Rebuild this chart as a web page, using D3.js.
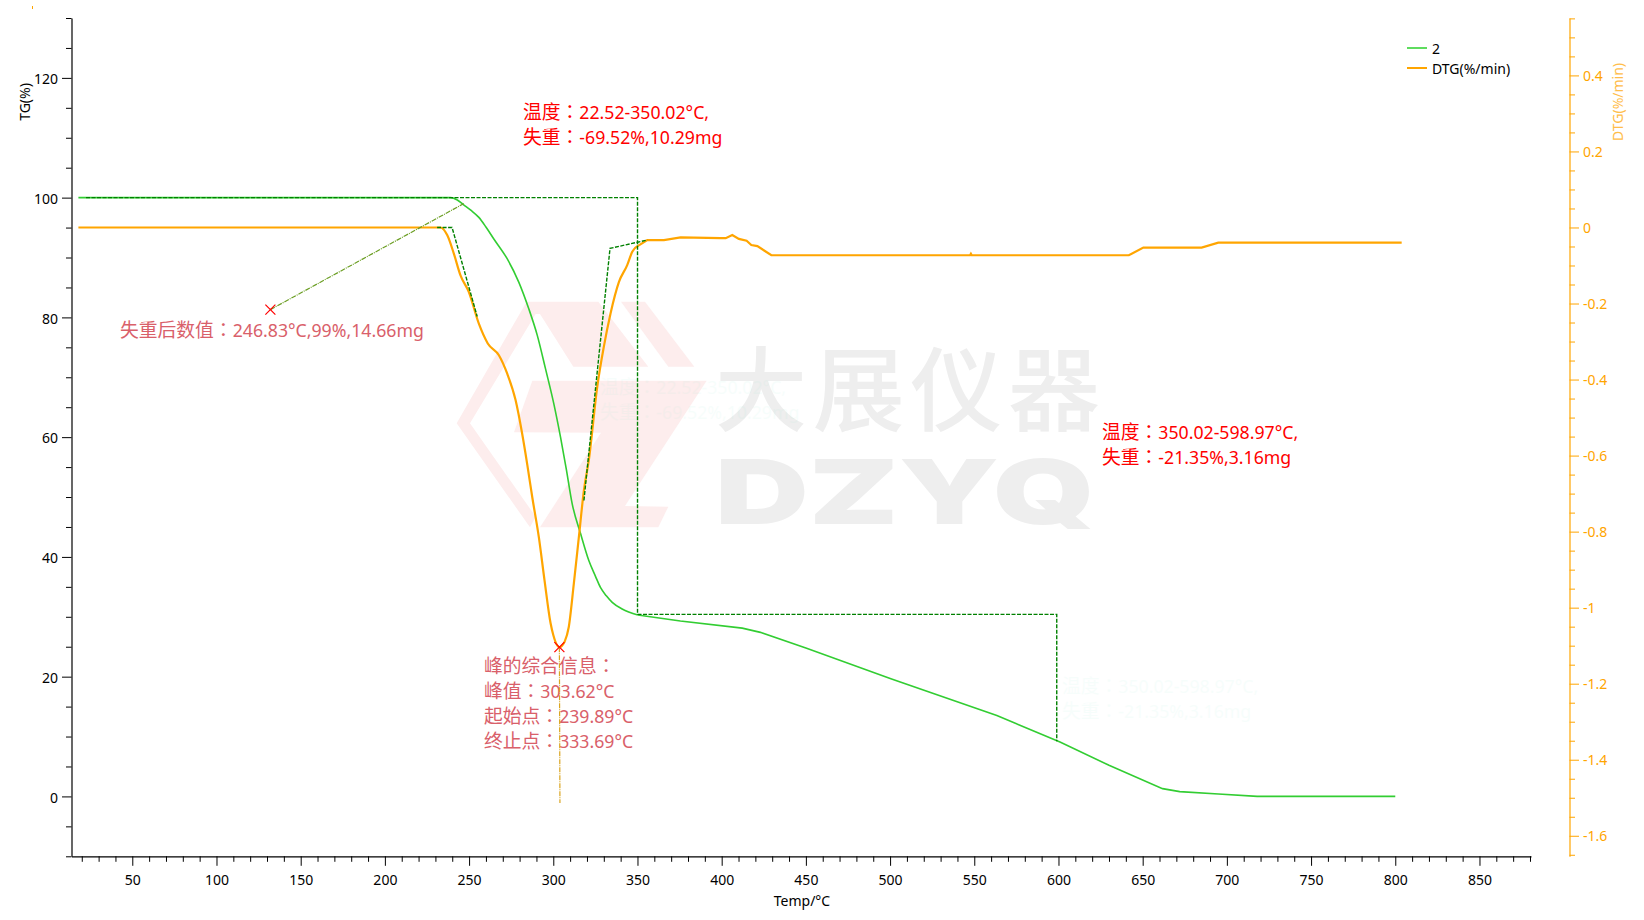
<!DOCTYPE html>
<html>
<meta charset="UTF-8">

<head>
  <script src="https://cdn.jsdelivr.net/npm/d3@7/dist/d3.min.js"></script>
  <style>
    html, body { margin: 0; padding: 0; background: #fff; }
    svg { display: block; }
    text { font-family: "Noto Sans", "Noto Sans CJK SC", sans-serif; }
  </style>
</head>

<body>
  <div id="viz">
    <svg style="width:1644px;height:920px;"></svg>
  </div>

  <script type="text/javascript">
    // values
    const tgTemp = [18, 100, 200, 239, 243, 246.8, 251, 255.8, 260, 264.7, 272.6, 279.5, 285.5, 290.5, 295.4, 300.3, 304.3, 307.7, 311.2, 316.2, 321.1, 325, 328, 331.5, 335, 340.9, 350.2, 375.5, 412.2, 423, 450, 500.9, 563.4, 600.9, 630, 661.8, 672, 695, 718, 760, 800]
    const tgValue = [100, 100, 100, 100, 99.6, 98.8, 97.9, 96.7, 95.1, 93.1, 89.8, 85.9, 81.4, 77, 71.4, 65.6, 60, 54.7, 48.9, 43.9, 39.4, 36.8, 34.9, 33.5, 32.4, 31.3, 30.3, 29.3, 28.1, 27.4, 24.8, 19.6, 13.5, 9.1, 5.2, 1.3, 0.8, 0.4, 0, 0, 0]

    const dtgTemp = [18, 100, 200, 233, 237, 240.9, 244.9, 249.8, 255.8, 261.1, 267.7, 272.6, 277.6, 281.5, 284.6, 287.5, 291.4, 294.8, 298.4, 300, 301.3, 303.6, 305.2, 306.7, 309.2, 312.2, 315.2, 318.2, 321.1, 326.1, 330, 334, 339, 343.9, 346.9, 350.8, 355.8, 365.7, 375.6, 399.4, 402.4, 406.3, 410.2, 414.8, 417.6, 421.2, 429.5, 500, 547.5, 548, 548.5, 600, 641.8, 650.4, 685, 694.9, 750, 803.8]
    const dtgValue = [0, 0, 0, 0, -0.02, -0.068, -0.126, -0.169, -0.253, -0.305, -0.336, -0.384, -0.454, -0.542, -0.625, -0.709, -0.814, -0.928, -1.041, -1.072, -1.09, -1.104, -1.1, -1.09, -1.051, -0.937, -0.814, -0.691, -0.612, -0.419, -0.314, -0.226, -0.143, -0.099, -0.064, -0.047, -0.033, -0.033, -0.026, -0.028, -0.028, -0.02, -0.03, -0.035, -0.046, -0.049, -0.073, -0.073, -0.073, -0.069, -0.073, -0.073, -0.073, -0.053, -0.053, -0.04, -0.04, -0.04]

    // dashed step and tangent helpers, [temp, value]
    const stepLeft = [[22.52, 100], [350.02, 100], [350.02, 30.4]]
    const stepRight = [[350.02, 30.4], [598.97, 30.4], [598.97, 9.2]]
    const onsetTangent = [[231, 0], [239.89, 0], [254.8, -0.234]]
    const endTangent = [[318.2, -0.718], [333.69, -0.055], [355.8, -0.033]]
    const lossLeader = [[132, 81.3], [246.83, 99]]
    const peakLeader = [[303.62, -1.104], [303.95, -1.514]]

    const xMajor = d3.range(50, 851, 50)
    const xMinor = d3.range(20, 881, 10).filter(d => d % 50 != 0)
    const yMajor = [0, 20, 40, 60, 80, 100, 120]
    const yMinor = d3.range(-10, 131, 5).filter(d => d % 20 != 0)
    const y2Major = [-1.6, -1.4, -1.2, -1, -0.8, -0.6, -0.4, -0.2, 0, 0.2, 0.4]
    const y2Minor = d3.range(-33, 12).map(d => d * 0.05).filter(d => Math.abs(d * 5 - Math.round(d * 5)) > 1e-6)

    const legendNames = ["2", "DTG(%/min)"]
    const notes = [
      { color: "#ff0000", x: 523, y: 113, lines: ["温度：22.52-350.02°C,", "失重：-69.52%,10.29mg"] },
      { color: "#ff0000", x: 1102, y: 433, lines: ["温度：350.02-598.97°C,", "失重：-21.35%,3.16mg"] },
      { color: "#d9606a", x: 120, y: 331, lines: ["失重后数值：246.83°C,99%,14.66mg"] },
      { color: "#d9606a", x: 484, y: 667, lines: ["峰的综合信息：", "峰值：303.62°C", "起始点：239.89°C", "终止点：333.69°C"] }
    ]
    // the same two texts again, nearly invisible, under the watermark
    const ghostNotes = [
      { x: 600, y: 388, lines: notes[0].lines },
      { x: 1062, y: 687, lines: notes[1].lines }
    ]

    const svg = d3.select("svg")

    const x = d3.scaleLinear().domain([13.9, 880.6]).range([71.5, 1531])
    const y = d3.scaleLinear().domain([-10, 130]).range([856.3, 18])
    const y2 = d3.scaleLinear().domain([-1.654, 0.551]).range([856.3, 18])

    // watermark, logo traced in zoomed pixels
    const logoParts = [
      [[245, 35], [460, 35], [610, 230], [385, 230], [285, 72], [272, 72], [75, 400], [272, 680], [255, 712], [35, 400]],
      [[528, 35], [600, 35], [748, 230], [670, 230]],
      [[262, 272], [785, 272], [540, 648], [670, 650], [640, 712], [285, 712], [468, 428], [207, 427]]
    ]
    const mark = svg.append("g").attr("id", "watermark")
    mark.append("g")
      .attr("transform", "translate(445,290) scale(0.3333)")
      .selectAll("path")
      .data(logoParts)
      .enter()
      .append("path")
      .attr("d", d => d3.line()(d) + "Z")
      .style("fill", "#fdeded")
    mark.append("text")
      .attr("x", 715).attr("y", 424)
      .attr("textLength", 385)
      .style("font-family", '"Noto Sans CJK SC"')
      .style("font-size", "92px")
      .style("font-weight", "500")
      .style("fill", "#eeeeee")
      .text("大展仪器")
    mark.append("text")
      .attr("x", 715).attr("y", 524)
      .attr("textLength", 380)
      .attr("lengthAdjust", "spacingAndGlyphs")
      .style("font-family", "Inter")
      .style("font-size", "90px")
      .style("font-weight", "900")
      .style("fill", "#eeeeee")
      .text("DZYQ")

    function drawAxis(axisMaker, scale, pos, major, minor, color, padding) {
      const g = svg.append("g").attr("transform", pos)
      g.call(axisMaker(scale).tickValues(minor).tickSize(5.5).tickFormat(""))
      g.select(".domain").remove()
      const main = svg.append("g").attr("transform", pos)
      main.call(axisMaker(scale).tickValues(major).tickSize(9.5).tickSizeOuter(0).tickPadding(padding).tickFormat(d => d))
      g.selectAll("line").style("stroke", color)
      main.selectAll("line").style("stroke", color)
      main.select(".domain").style("stroke", color).style("stroke-width", "1.2px")
      main.selectAll("text").style("fill", color).style("font-size", "14px")
        .style("font-family", '"Noto Sans", sans-serif')
      return main
    }

    drawAxis(d3.axisBottom, x, "translate(0,856.3)", xMajor, xMinor, "#000", 9.5)
    drawAxis(d3.axisLeft, y, "translate(71.5,0)", yMajor, yMinor, "#000", 4).selectAll("text").attr("dy", "0.41em")
    drawAxis(d3.axisRight, y2, "translate(1569.5,0)", y2Major, y2Minor, "#ffa500", 4).selectAll("text").attr("dy", "0.37em")

    svg.append("text")
      .attr("transform", "translate(30,102) rotate(-90)")
      .style("text-anchor", "middle")
      .style("font-size", "14px")
      .text("TG(%)")
    svg.append("text")
      .attr("transform", "translate(1623,102) rotate(-90)")
      .style("text-anchor", "middle")
      .style("font-size", "14px")
      .style("fill", "#ffbd4a")
      .text("DTG(%/min)")
    svg.append("text")
      .attr("x", 802).attr("y", 906)
      .style("text-anchor", "middle")
      .style("font-size", "14px")
      .text("Temp/°C")

    // CJK runs are a bit larger than the latin ones, and the colon is the centred form
    function fillNote(sel) {
      sel.selectAll("tspan")
        .data(d => d.split(/([\u3000-\u9fff\uff00-\uffef]+)/).filter(s => s != ""))
        .enter()
        .append("tspan")
        .style("font-size", s => /[\u3000-\u9fff\uff00-\uffef]/.test(s) ? "18.8px" : "17.7px")
        .style("font-family", s => /：/.test(s) ? '"Noto Sans CJK TC"' : null)
        .text(s => s)
    }

    function drawNote(n, color, opacity) {
      svg.append("g")
        .selectAll("text")
        .data(n.lines)
        .enter()
        .append("text")
        .attr("x", n.x)
        .attr("y", (d, i) => n.y + i * 25 + 6)
        .style("fill", color)
        .style("opacity", opacity)
        .call(fillNote)
    }
    ghostNotes.forEach(n => drawNote(n, "#30d8a8", 0.035))
    notes.forEach(n => drawNote(n, n.color, 1))

    const lineTg = d3.line().x(d => x(d[0])).y(d => y(d[1]))
    const lineDtg = d3.line().x(d => x(d[0])).y(d => y2(d[1]))

    // the fast part of each curve is smooth, after 350 °C it runs in straight pieces
    function drawCurve(temps, vals, maker, color, width) {
      const pts = d3.zip(temps, vals)
      const splitAt = 350.8
      svg.append("path")
        .attr("d", maker.curve(d3.curveMonotoneX)(pts.filter(d => d[0] <= splitAt)))
        .style("fill", "none").style("stroke", color).style("stroke-width", width)
      const last = pts.filter(d => d[0] <= splitAt).pop()
      svg.append("path")
        .attr("d", maker.curve(d3.curveLinear)([last].concat(pts.filter(d => d[0] > splitAt))))
        .style("fill", "none").style("stroke", color).style("stroke-width", width)
    }
    drawCurve(tgTemp, tgValue, lineTg, "#32cd32", "1.6px")
    drawCurve(dtgTemp, dtgValue, lineDtg, "#ffa500", "2.2px")

    const dashes = [
      [lineTg, stepLeft], [lineTg, stepRight],
      [lineDtg, onsetTangent], [lineDtg, endTangent]
    ]
    svg.append("g")
      .selectAll("path")
      .data(dashes)
      .enter()
      .append("path")
      .attr("d", d => d[0](d[1]))
      .style("fill", "none")
      .style("stroke", "#008000")
      .style("stroke-width", "1.4px")
      .style("stroke-dasharray", "4,1.5")

    svg.append("path")
      .attr("d", lineTg(lossLeader))
      .style("fill", "none")
      .style("stroke", "#6b9e23")
      .style("stroke-width", "1.2px")
      .style("stroke-dasharray", "5,1,1,1")
    svg.append("path")
      .attr("d", lineDtg(peakLeader))
      .style("fill", "none")
      .style("stroke", "#daa520")
      .style("stroke-width", "1.2px")
      .style("stroke-dasharray", "5,1,1,1")

    // red crosses
    const crosses = [[x(lossLeader[0][0]), y(lossLeader[0][1])], [x(peakLeader[0][0]), y2(peakLeader[0][1])]]
    svg.append("g")
      .selectAll("path")
      .data(crosses)
      .enter()
      .append("path")
      .attr("transform", d => `translate(${d[0]},${d[1]})`)
      .attr("d", "M-5,-5L5,5M-5,5L5,-5")
      .style("stroke", "#ff0000")
      .style("stroke-width", "1.2px")

    // legend
    const legend = svg.append("g")
      .selectAll("g")
      .data(legendNames)
      .enter()
      .append("g")
      .attr("transform", (d, i) => `translate(1407,${48 + i * 20})`)
    legend.append("line")
      .attr("x2", 20)
      .style("stroke", (d, i) => i == 0 ? "#5fdc5f" : "#ffa500")
      .style("stroke-width", "2px")
    legend.append("text")
      .attr("x", 25)
      .attr("y", 5.5)
      .style("font-size", "14px")
      .text(d => d)

    // stray orange tick in the corner
    svg.append("line")
      .attr("x1", 32.5).attr("x2", 32.5).attr("y1", 6).attr("y2", 9)
      .style("stroke", "#ffa500")
  </script>
</body>

</html>
